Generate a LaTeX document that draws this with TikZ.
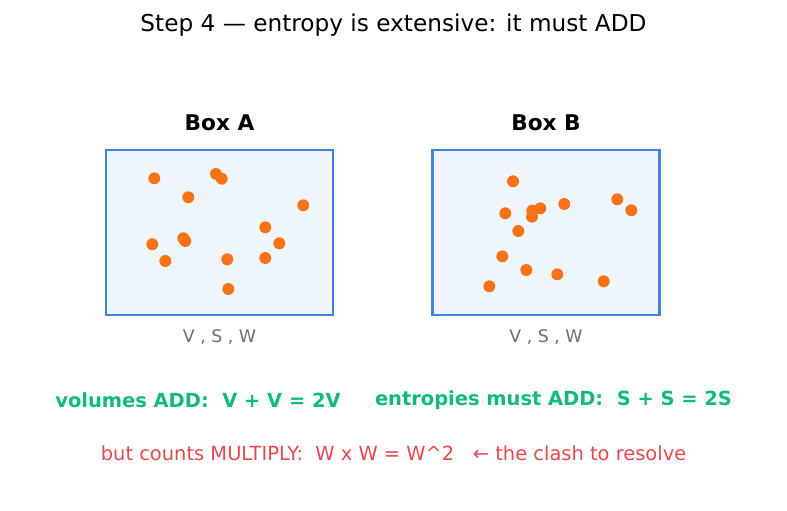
\documentclass[tikz,border=0pt]{standalone}
\usepackage{fontspec}
\setmainfont{DejaVu Sans}
\usepackage{xcolor}
\definecolor{boxblue}{HTML}{3F82E0}
\definecolor{boxfill}{HTML}{EEF5FD}
\definecolor{dotorange}{HTML}{F97316}
\definecolor{addgreen}{HTML}{10B981}
\definecolor{clashred}{HTML}{E5484D}
\definecolor{labelgray}{HTML}{6E6E6E}

\begin{document}
\begin{tikzpicture}[x=0.72pt, y=-0.72pt, inner sep=0pt]
		\tikzstyle{every node}=[align=center]
		\tikzstyle{box}=[draw=boxblue, line width=1.9pt, fill=boxfill, minimum width=163.4pt, minimum height=118.8pt]
		\tikzstyle{particle}=[fill=dotorange]
		\useasboundingbox (0, 0) rectangle (787, 510);

			\node (title) at (393.5, 25) {\fontsize{16.7}{19}\selectfont Step 4 — entropy is extensive: it must ADD};

			\node[box] (boxA) at (219.5, 232.5) {};
			\node[box] (boxB) at (546, 232.5) {};
			\node (nameA) at (219.5, 123) {\fontsize{15.6}{18}\selectfont\bfseries Box A};
			\node (nameB) at (546, 123) {\fontsize{15.6}{18}\selectfont\bfseries Box B};
			\node[text=labelgray] (varsA) at (219.5, 337) {\fontsize{12.5}{15}\selectfont V , S , W};
			\node[text=labelgray] (varsB) at (546, 337) {\fontsize{12.5}{15}\selectfont V , S , W};

			% particles in box A
			\foreach \px/\py in {154.3/178.3, 216/174, 221.7/178.7, 188.3/197.3, 303.3/205.3, 265.3/227.3, 152.3/244.3, 183.3/238.3, 185.3/241, 279.3/243.3, 165.3/261, 227.3/259.3, 265.3/258, 228.3/289}
				\fill[particle] (\px, \py) circle[radius=4.3pt];
			% particles in box B
			\foreach \px/\py in {513/181.3, 505.3/213.3, 532.3/210.7, 540.3/208.3, 532/216.7, 564.3/204, 617.3/199.3, 631.3/210.3, 518.3/231, 502.3/256.3, 526.3/270, 557.3/274.3, 603.7/281.3, 489.3/286.3}
				\fill[particle] (\px, \py) circle[radius=4.3pt];

			\node[text=addgreen] (volumes) at (198, 400) {\fontsize{14}{17}\selectfont\bfseries volumes ADD:\ \ V + V = 2V};
			\node[text=addgreen] (entropies) at (553.5, 400) {\fontsize{14}{17}\selectfont\bfseries entropies must ADD:\ \ S + S = 2S};
			\node[text=clashred] (counts) at (393.5, 453) {\fontsize{14}{17}\selectfont but counts MULTIPLY:\ \ W x W = W\^{}2\ \ \ ← the clash to resolve};
		\end{tikzpicture}
\end{document}
